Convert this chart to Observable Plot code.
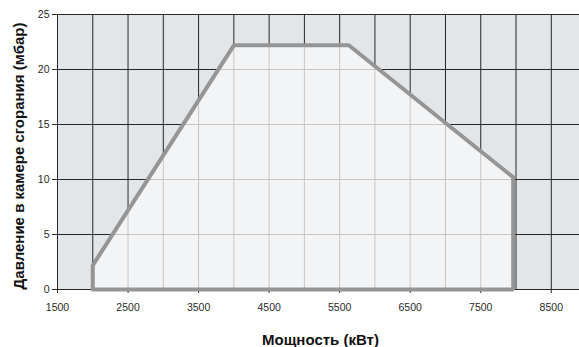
<!DOCTYPE html>
<html><head><meta charset="utf-8">
<script src="https://cdn.jsdelivr.net/npm/d3@7"></script>
<script src="https://cdn.jsdelivr.net/npm/@observablehq/plot@0.6"></script>
<style>body{margin:0;background:#fff;} #chart svg{display:block;}</style>
</head><body><div id="chart"></div>
<script>
const xTicks = [1500, 2500, 3500, 4500, 5500, 6500, 7500, 8500];
const yTicks = [0, 5, 10, 15, 20, 25];
const gridX = [1500, 2000, 2500, 3000, 3500, 4000, 4500, 5000, 5500, 6000, 6500, 7000, 7500, 8000, 8500];
const powerKW = [2000, 2000, 4000, 5630, 7960, 7960, 2000];
const pressureMbar = [0, 2.2, 22.2, 22.2, 10.2, 0, 0];
const xLabel = "Мощность (кВт)";
const yLabel = "Давление в камере сгорания (мбар)";

const poly = powerKW.map((x, i) => ({x, y: pressureMbar[i]}));
const upperEdge = poly.slice(0, 6);

const chart = Plot.plot({
  width: 579, height: 347,
  marginLeft: 57, marginRight: 0, marginTop: 14, marginBottom: 58,
  style: {fontFamily: "Liberation Sans, Arial, sans-serif", fontSize: "10.5px", color: "#2a2a2a", background: "#fff"},
  x: {domain: [1500, 8900], ticks: xTicks, tickFormat: d => String(d), tickSize: 4, tickPadding: 10, label: null},
  y: {domain: [0, 25], ticks: yTicks, tickSize: 5, tickPadding: 3, label: null},
  marks: [
    Plot.frame({fill: "#e3e6e8", stroke: "none"}),
    Plot.ruleX(gridX, {stroke: "#262626", strokeWidth: 1}),
    Plot.ruleY(yTicks, {stroke: "#262626", strokeWidth: 1}),
    Plot.area(upperEdge, {x1: "x", y1: 0, y2: "y", fill: "#f3f4f6", ariaDescription: "inner-fill"}),
    Plot.ruleX(gridX, {stroke: "#c6c6c6", strokeWidth: 1, ariaDescription: "inner-grid"}),
    Plot.ruleY(yTicks, {stroke: "#c6c6c6", strokeWidth: 1, ariaDescription: "inner-grid"}),
    Plot.line(poly, {x: "x", y: "y", stroke: "#959595", strokeWidth: 4, strokeLinejoin: "miter"}),
    Plot.text([yLabel], {frameAnchor: "left", textAnchor: "middle", rotate: -90, dx: -38, dy: 4, fontSize: 15, fontWeight: "bold", fill: "#111", fontFamily: "Liberation Sans, Arial, sans-serif"}),
    Plot.text([xLabel], {frameAnchor: "bottom", textAnchor: "middle", dy: 55, dx: 2, fontSize: 15, fontWeight: "bold", fill: "#111", fontFamily: "Liberation Sans, Arial, sans-serif"})
  ]
});
document.getElementById("chart").appendChild(chart);

// clip the light grid to the filled polygon
const svg = chart.tagName.toLowerCase() === "svg" ? chart : chart.querySelector("svg");
const areaPath = svg.querySelector('[aria-description="inner-fill"] path');
if (areaPath) {
  const ns = "http://www.w3.org/2000/svg";
  const defs = document.createElementNS(ns, "defs");
  const cp = document.createElementNS(ns, "clipPath");
  cp.setAttribute("id", "polyclip");
  const p = document.createElementNS(ns, "path");
  p.setAttribute("d", areaPath.getAttribute("d"));
  cp.appendChild(p);
  defs.appendChild(cp);
  svg.insertBefore(defs, svg.firstChild);
  svg.querySelectorAll('[aria-description="inner-grid"]').forEach(g => g.setAttribute("clip-path", "url(#polyclip)"));
}
</script>
</body></html>
